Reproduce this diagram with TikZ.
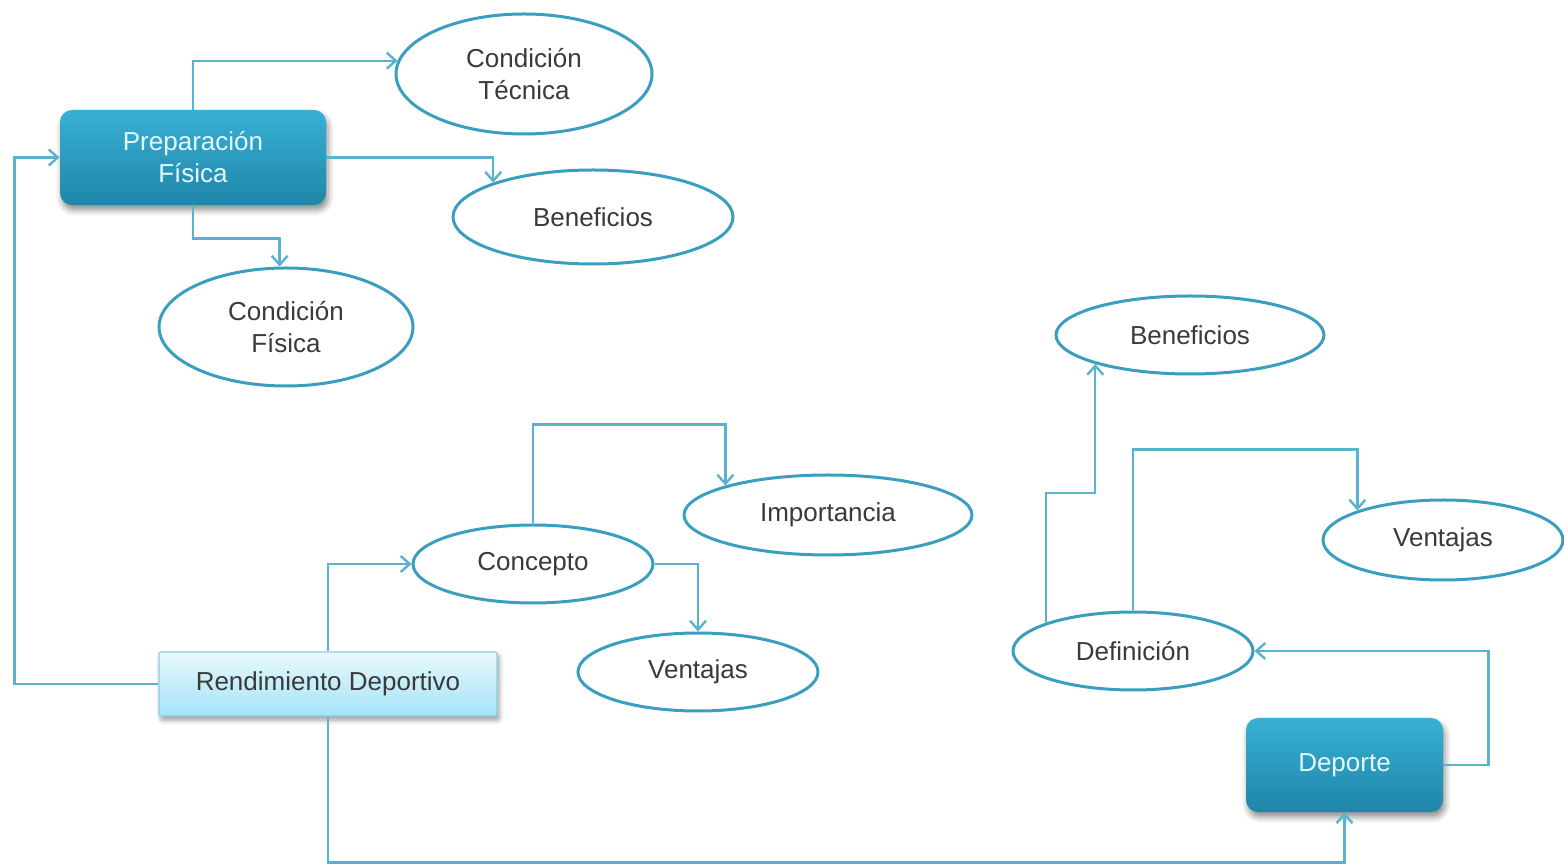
\documentclass[tikz,border=0pt]{standalone}
\usepackage{fontspec}
\setmainfont{Liberation Sans}
\usetikzlibrary{shapes.geometric,arrows.meta,shadows.blur}
\definecolor{edgeblue}{HTML}{3A9FBF}
\definecolor{linkblue}{HTML}{5AB3CE}
\definecolor{darktop}{HTML}{38B0D5}
\definecolor{darkbot}{HTML}{1F86A8}
\definecolor{lighttop}{HTML}{E8F9FE}
\definecolor{lightbot}{HTML}{A4E2F7}
\definecolor{lightedge}{HTML}{8CCDE2}
\definecolor{inktext}{HTML}{3A3A3A}
\definecolor{paletext}{HTML}{E6F7FC}
\tikzset{
  oval/.style={ellipse, draw=edgeblue, line width=1.5pt, fill=white, inner sep=0pt,
    text=inktext, font=\fontsize{13}{16}\selectfont, align=center},
  darkbox/.style={rectangle, rounded corners=6pt, draw=none, top color=darktop, bottom color=darkbot,
    text=paletext, font=\fontsize{13}{16}\selectfont, align=center,
    blur shadow={shadow xshift=1pt, shadow yshift=-2.5pt, shadow blur radius=3pt, shadow opacity=45}},
  lightbox/.style={rectangle, rounded corners=1pt, draw=lightedge, line width=0.6pt,
    top color=lighttop, bottom color=lightbot, text=inktext, font=\fontsize{13}{16}\selectfont,
    blur shadow={shadow xshift=1pt, shadow yshift=-2pt, shadow blur radius=2.5pt, shadow opacity=40}},
  link/.style={draw=linkblue, line width=1.2pt, -{Straight Barb[length=4.5pt,width=8pt]}},
}
\begin{document}
\begin{tikzpicture}[x=0.5pt, y=-0.5pt]
\useasboundingbox (0,0) rectangle (1564,865);

% upper group
\node[darkbox, minimum width=133pt, minimum height=47.5pt] (prep) at (193,157.5) {Preparación\\Física};
\node[oval, minimum width=128pt, minimum height=60pt] (ct) at (524,74) {Condición\\Técnica};
\node[oval, minimum width=140pt, minimum height=47pt] (b1) at (593,217) {Beneficios};
\node[oval, minimum width=127pt, minimum height=59pt] (cf) at (286,327) {Condición\\Física};

% middle group
\node[lightbox, minimum width=169pt, minimum height=32pt] (rd) at (328,684) {Rendimiento Deportivo};
\node[oval, minimum width=120pt, minimum height=39pt] (con) at (533,564) {Concepto};
\node[oval, minimum width=144pt, minimum height=40pt] (imp) at (828,515) {Importancia};
\node[oval, minimum width=120pt, minimum height=39pt] (v1) at (698,672) {Ventajas};

% right group
\node[darkbox, minimum width=98.5pt, minimum height=47pt] (dep) at (1344.5,765) {Deporte};
\node[oval, minimum width=120pt, minimum height=39pt] (def) at (1133,651) {Definición};
\node[oval, minimum width=134pt, minimum height=39pt] (b2) at (1190,335) {Beneficios};
\node[oval, minimum width=120pt, minimum height=40pt] (v2) at (1443,540) {Ventajas};

% connectors
\draw[link] (prep.north) |- (ct.174);
\draw[link] (prep.east) -| (b1.161);
\draw[link] (prep.south) -- ++(0,33) -| (cf.96);
\draw[link] (rd.west) -- ++(-144,0) |- (prep.west);
\draw[link] (rd.north) |- (con.west);
\draw[link] (rd.south) -- ++(0,146) -| (dep.south);
\draw[link] (con.north) -- ++(0,-99) -| (imp.164);
\draw[link] (con.east) -| (v1.north);
\draw[link] (dep.east) -- ++(45,0) |- (def.east);
\draw[link] (def.162) -- ++(0,-130) -| (b2.197.6);
\draw[link] (def.north) -- ++(0,-161) -| (v2.161);
\end{tikzpicture}
\end{document}
